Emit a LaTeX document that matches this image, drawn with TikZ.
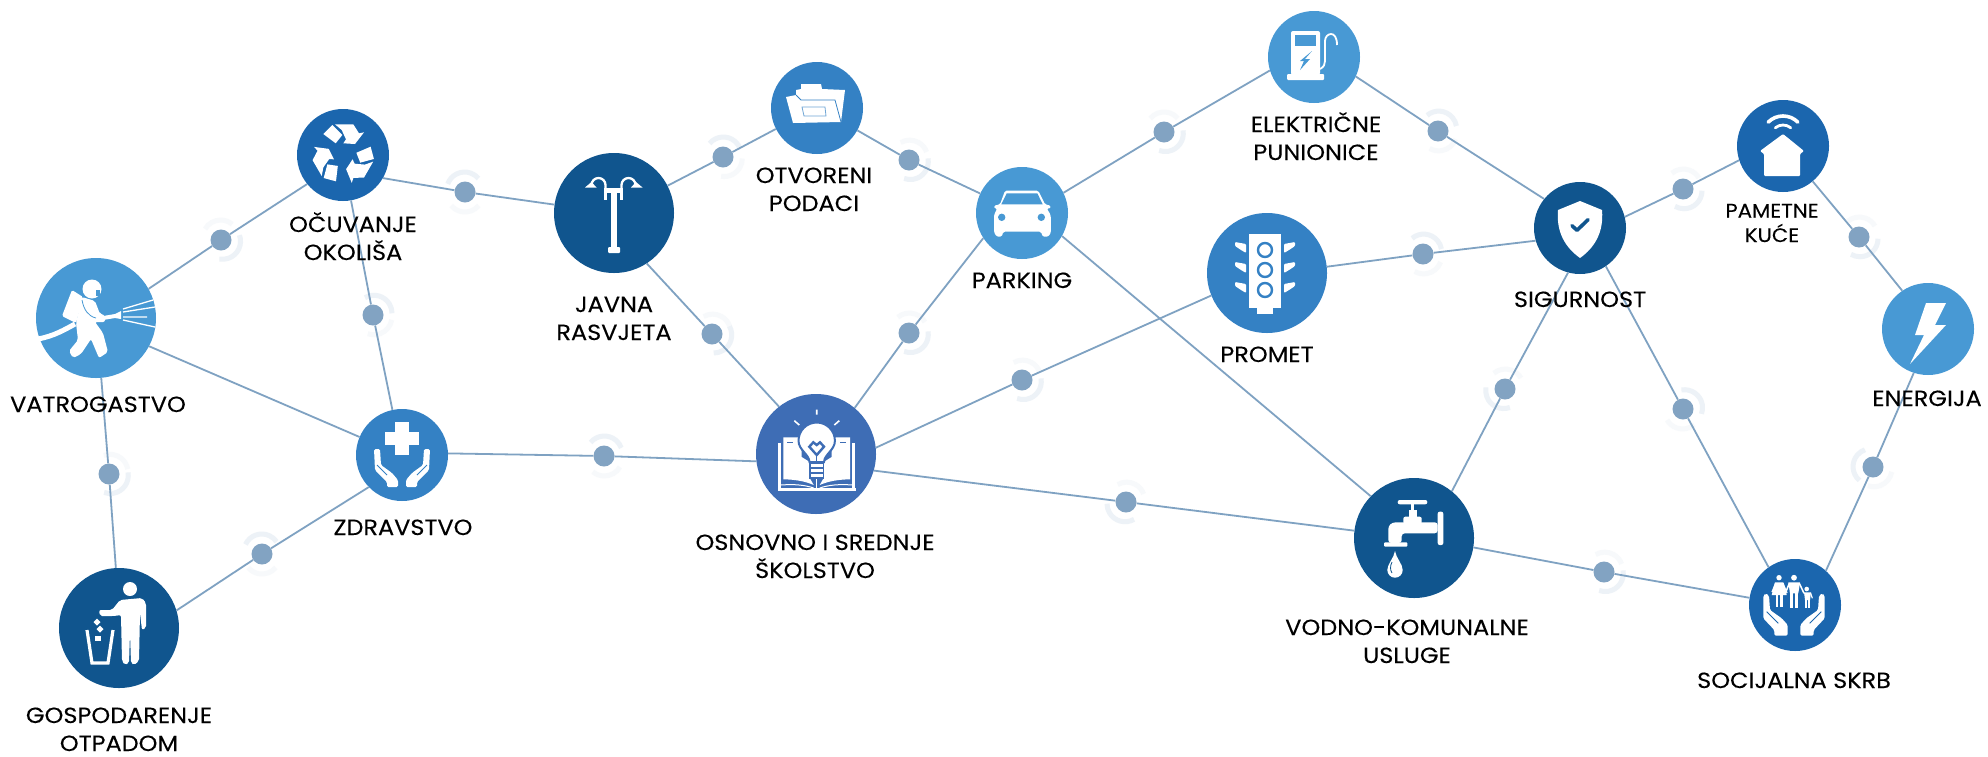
\documentclass[tikz,border=0pt]{standalone}
\usepackage{fontspec}
\setmainfont{Poppins}[FakeStretch=1.09,FakeBold=0.12]
\definecolor{cL}{HTML}{4899D4}
\definecolor{cM}{HTML}{3481C4}
\definecolor{cD}{HTML}{1B66AE}
\definecolor{cX}{HTML}{10558E}
\definecolor{cS}{HTML}{3E6DB5}
\definecolor{cLine}{HTML}{7FA2C2}
\definecolor{cDot}{HTML}{82A3C2}
\definecolor{cHalo}{HTML}{EDF2F7}
\definecolor{cHalo2}{HTML}{F7F9FB}
\tikzset{
  big/.style={circle,inner sep=0pt,minimum size=120pt,draw=none},
  small/.style={circle,inner sep=0pt,minimum size=92pt,draw=none},
  relaydot/.style={circle,inner sep=0pt,minimum size=21pt,fill=cDot,draw=none},
  link/.style={draw=cLine,line width=1.8pt},
  halo/.style={draw=cHalo,line width=5pt},
  halob/.style={draw=cHalo2,line width=5pt},
  lbl/.style={anchor=base,align=center,inner sep=0pt,text=black,font=\fontsize{22}{28}\selectfont},
  lbls/.style={anchor=base,align=center,inner sep=0pt,text=black,font=\fontsize{19.5}{24.5}\selectfont}
}
\newcommand\relay[5]{%
  \draw[halo] ({#2+2*cos(#4)+18*cos(#4-60)},{#3+2*sin(#4)+18*sin(#4-60)}) arc[start angle=#4-60,end angle=#4+60,radius=18pt];
  \draw[halob] ({#2+2*cos(#5)+18*cos(#5-50)},{#3+2*sin(#5)+18*sin(#5-50)}) arc[start angle=#5-50,end angle=#5+50,radius=18pt];
  \node[relaydot] (#1) at (#2,#3) {};}
\begin{document}
\begin{tikzpicture}[x=1pt,y=1pt,yscale=-1]
\useasboundingbox (0,0) rectangle (1988,756);
\fill[white] (0,0) rectangle (1988,756);
% relay dots
\relay{a}{221}{240}{40}{-100}
\relay{b}{465}{192}{-100}{90}
\relay{c}{373}{315}{-60}{60}
\relay{d}{109}{474}{50}{-60}
\relay{e}{262}{554}{-95}{90}
\relay{f}{604}{456}{-80}{80}
\relay{g}{723}{157}{-80}{50}
\relay{h}{909}{160}{50}{-70}
\relay{i}{712}{334}{30}{-70}
\relay{j}{909}{333}{50}{-80}
\relay{k}{1022}{380}{50}{-70}
\relay{l}{1126}{502}{120}{-70}
\relay{m}{1164}{132}{50}{-90}
\relay{n}{1438}{131}{-70}{70}
\relay{o}{1423}{254}{-70}{70}
\relay{p}{1683}{189}{60}{-80}
\relay{q}{1859}{237}{60}{-80}
\relay{r}{1683}{409}{-40}{100}
\relay{s}{1505}{389}{130}{-80}
\relay{t}{1604}{572}{50}{-70}
\relay{u}{1873}{467}{-170}{60}
% hubs
\node[big,fill=cL] (V) at (96,318) {};
\node[small,fill=cD] (O) at (343,155) {};
\node[small,fill=cM] (Z) at (402,455) {};
\node[big,fill=cX] (G) at (119,628) {};
\node[big,fill=cX] (J) at (614,213) {};
\node[small,fill=cM] (T) at (817,108) {};
\node[small,fill=cL] (P) at (1022,213) {};
\node[big,fill=cS] (S) at (816,454) {};
\node[small,fill=cL] (E) at (1314,57) {};
\node[big,fill=cM] (R) at (1267,273) {};
\node[small,fill=cX] (I) at (1580,228) {};
\node[small,fill=cD] (K) at (1783,146) {};
\node[small,fill=cL] (N) at (1928,329) {};
\node[big,fill=cX] (U) at (1414,538) {};
\node[small,fill=cD] (C) at (1795,605) {};
% links
\draw[link] (V.29.5) -- (a) -- (O.219);
\draw[link] (O.-30) -- (b) -- (J.172);
\draw[link] (O.-80) -- (c) -- (Z.102);
\draw[link] (V.-28) -- (Z.157);
\draw[link] (V.-85) -- (d) -- (G.93);
\draw[link] (G.17) -- (e) -- (Z.224);
\draw[link] (Z.2) -- (f) -- (S.187);
\draw[link] (J.27) -- (g) -- (T.207);
\draw[link] (T.-29) -- (h) -- (P.155);
\draw[link] (J.-57) -- (i) -- (S.128);
\draw[link] (P.213) -- (j) -- (S.50);
\draw[link] (S.6.5) -- (k) -- (R.202);
\draw[link] (S.-16) -- (l) -- (U.173);
\draw[link] (P.26) -- (m) -- (E.197);
\draw[link] (E.-25) -- (n) -- (I.141);
\draw[link] (R.6) -- (o) -- (I.196);
\draw[link] (I.14) -- (p) -- (K.198);
\draw[link] (K.-50) -- (q) -- (N.124);
\draw[link] (I.-56) -- (r) -- (C.125);
\draw[link] (I.255) -- (s) -- (U.51);
\draw[link] (P.-30) -- (U.136);
\draw[link] (U.-9) -- (t) -- (C.171);
\draw[link] (N.252) -- (u) -- (C.48);
% firefighter
\begin{scope}[shift={(96,318)}]
\fill[white,rounded corners=1.5pt] (-24,-28) -- (-13,-21) -- (-20,5) -- (-34,-2) -- cycle;
\fill[white] (-4,-29) circle (9.5);
\fill[cL] (0,-28) rectangle (4,-22);
\fill[white,rounded corners=2pt] (-14,-21) -- (-1,-17) -- (4,-4) -- (9,-3) -- (9,4) -- (-1,4) -- (7,15) -- (12,34) -- (3,40) -- (-5,21) -- (-15,36) -- (-23,40) -- (-27,33) -- (-18,22) -- (-20,5) -- cycle;
\draw[cL,line width=.8pt] (-14,-18) .. controls (-12,-8) and (-8,-2) .. (0,0);
\fill[white] (7,-2) -- (19,-4) -- (25,-7) -- (25,1) -- (19,0) -- (7,2) -- cycle;
\draw[white,line width=1.3pt] (27,-9) -- (57,-18) (27,-6) -- (59,-11) (27,-1) -- (51,-1) (27,2) -- (59,9);
\draw[white,line width=5pt] (-58,21) .. controls (-42,18) and (-32,12) .. (-21,6);
\end{scope}
% recycle
\begin{scope}[shift={(343,155)}]
\foreach \a in {0,120,240}{
\begin{scope}[rotate around={\a:(0.3,-1)}]
\fill[white] (-19.7,-21) -- (-10.7,-30) -- (-0.7,-20) -- (-7.3,-11.7) -- cycle;
\fill[white] (-8,-30.7) -- (10.3,-30.7) -- (16,-21.7) -- (21,-22.7) -- (12,-11) -- (0.3,-11.7) -- (3,-15.7) -- (-1.3,-25) -- cycle;
\end{scope}}
\end{scope}
% health
\begin{scope}[shift={(402,455)}]
\fill[white] (-7,-33) rectangle (7,0);
\fill[white] (-17,-23) rectangle (17,-10);
\foreach \s in {1,-1}{
\begin{scope}[xscale=\s]
\fill[white,rounded corners=1.5pt] (-28,-6) -- (-22,-6) -- (-21,10) -- (-10,18) -- (-4,25) -- (-4,32) -- (-15,32) -- (-15,27) -- (-27,15) -- cycle;
\draw[cM,line width=.9pt] (-25,10) -- (-15,20);
\end{scope}}
\end{scope}
% waste
\begin{scope}[shift={(119,628)}]
\fill[white] (11,-39) circle (7);
\fill[white,rounded corners=2pt] (-20,-18) -- (-7,-18) -- (1,-28) -- (23,-30) -- (27,-25) -- (27,0) -- (23,2) -- (21,-15) -- (20,33) -- (15,37) -- (12,35) -- (11,5) -- (10,35) -- (6,37) -- (3,33) -- (2,-13) -- (-5,-12) -- (-19,-12) -- cycle;
\draw[white,line width=3.2pt] (-32,2) -- (-27,35) -- (-11,35) -- (-6,2);
\fill[white] (-22,-9.5) -- (-18.5,-6) -- (-22,-2.5) -- (-25.5,-6) -- cycle;
\fill[white] (-19,-2.5) -- (-15.5,1) -- (-19,4.5) -- (-22.5,1) -- cycle;
\fill[white] (-24,7.5) rectangle (-18,12.5);
\end{scope}
% lamp
\begin{scope}[shift={(614,213)}]
\fill[white] (-3.5,-21) rectangle (3,36);
\fill[white,rounded corners=1pt] (-6,34) rectangle (6,40);
\fill[white] (-10,-25) rectangle (9,-20);
\fill[white] (-10,-25) rectangle (-7,-13);
\fill[white] (6,-25) rectangle (9,-13);
\draw[white,line width=2.3pt] (-8.5,-23) -- (-8.5,-28) arc[start angle=0,end angle=-180,radius=7pt];
\draw[white,line width=2.3pt] (7.5,-23) -- (7.5,-28) arc[start angle=180,end angle=360,radius=7pt];
\fill[white] (-29,-25.5) -- (-17.5,-25.5) -- (-22.5,-31) -- cycle;
\fill[white] (28.5,-25.5) -- (17,-25.5) -- (22,-31) -- cycle;
\end{scope}
% folder
\begin{scope}[shift={(817,108)}]
\fill[white] (-16,-24) -- (4,-24) -- (5,-19) -- (28,-18) -- (24,14) -- (-24,15) -- (-31,-11) -- (-21,-13) -- (-21,-18) -- (-16,-19) -- cycle;
\draw[cM,line width=.8pt] (-21,-13) -- (-16,-8) -- (18,-8) -- (24,14);
\draw[cM!70,line width=.8pt] (-15,-1) -- (8,-1) -- (9,8) -- (-13,8) -- cycle;
\end{scope}
% car
\begin{scope}[shift={(1022,213)}]
\fill[white,rounded corners=1.5pt] (-17,-22.3) -- (16.3,-22.3) -- (23,-8.7) -- (28.7,-7.3) -- (28.7,-4.7) -- (24.7,-4.7) -- (28.7,2) -- (29,19.3) -- (26.3,23.7) -- (20.7,23.7) -- (19,18.7) -- (-18.7,18.7) -- (-20.3,23.7) -- (-25.3,23.7) -- (-28,19.3) -- (-28,2) -- (-24.7,-4.7) -- (-28,-4.7) -- (-28,-7.3) -- (-22,-8.7) -- cycle;
\fill[cL] (-15.3,-19.7) -- (15.3,-19.7) -- (20.7,-8.7) -- (-20.7,-8.7) -- cycle;
\fill[cL] (-20.3,4.3) circle (3.7);
\fill[cL] (19.3,4.3) circle (3.7);
\end{scope}
% school
\begin{scope}[shift={(816,454)}]
\foreach \s in {1,-1}{
\begin{scope}[shift={(0.7,0)},xscale=\s]
\fill[white] (-33.4,-16.7) -- (-15,-16.7) -- (-15,3) -- (-7,8) -- (-7,24) -- (-3,31) .. controls (-12,27) and (-22,25.5) .. (-33.4,25.3) -- cycle;
\fill[white] (-38.4,-10.7) rectangle (-35.7,34);
\draw[white,line width=1pt] (-35.7,31) .. controls (-22,30) and (-12,31) .. (-3,34);
\fill[cS] (-29.4,-12.3) rectangle (-23.4,-10.7);
\end{scope}}
\fill[white] (-37.7,34) rectangle (40,37.3);
\draw[white,line width=1.5pt] (0.7,24) -- (0.7,34);
\fill[white,draw=cS,line width=2pt] (-6.5,8) .. controls (-7,0) and (-17.5,-4) .. (-17.5,-13.3) arc[start angle=180,end angle=360,radius=18.2pt] .. controls (19,-4) and (8.5,0) .. (8,8) -- cycle;
\fill[white,draw=cS,line width=1.4pt] (-6,9) rectangle (7.5,24);
\draw[cS,line width=1.4pt] (-6,14) -- (7.5,14) (-6,19) -- (7.5,19);
\draw[cS,line width=2.4pt,line join=miter] (-6.7,-7.3) -- (0.7,1) -- (8,-7.3) -- (4,-11.7) -- (0.7,-9) -- (-2.7,-11.7) -- cycle;
\draw[cS,line width=1.4pt] (0.7,1) -- (0.7,9);
\draw[white,line width=1.6pt] (0.7,-44.3) -- (0.7,-39.3) (-21.7,-33.3) -- (-16.7,-29) (23.3,-33.3) -- (18.3,-29);
\end{scope}
% charging
\begin{scope}[shift={(1314,57)}]
\fill[white,rounded corners=2pt] (-23,-26) rectangle (6,18);
\fill[white,rounded corners=1pt] (-27,17) rectangle (10,23);
\fill[cL] (-19,-22) rectangle (2,-11);
\fill[cL] (-2,-6) -- (-9,2) -- (-4,2) -- (-14,13) -- (-10,4) -- (-14,4) -- cycle;
\draw[white,line width=1.8pt] (6,12) .. controls (10,10) and (11,7) .. (11,4) -- (11,-16) .. controls (11,-20) and (14,-23) .. (17,-23) .. controls (20,-23) and (23,-20) .. (23,-12);
\end{scope}
% traffic
\begin{scope}[shift={(1267,273)}]
\fill[white] (-18,-39) rectangle (14,35);
\fill[white] (-10,35) rectangle (6,41);
\foreach \d in {0,20,40}{
\draw[cM,line width=2.4pt] (-2,-23+\d) circle (7);
\fill[white,rounded corners=1pt] (-32,-31+\d) -- (-21,-29+\d) -- (-21,-20+\d) -- (-26,-23+\d) -- (-32,-27+\d) -- cycle;
\fill[white,rounded corners=1pt] (28,-31+\d) -- (17,-29+\d) -- (17,-20+\d) -- (22,-23+\d) -- (28,-27+\d) -- cycle;
}
\end{scope}
% shield
\begin{scope}[shift={(1580,228)}]
\fill[white] (0,-27) -- (22,-18) .. controls (24,5) and (14,20) .. (0,30) .. controls (-14,20) and (-24,5) .. (-22,-18) -- cycle;
\draw[cX,line width=3.6pt,line cap=round,line join=round] (-8,-2.3) -- (-3,2.3) -- (8,-8.3);
\end{scope}
% smart home
\begin{scope}[shift={(1783,146)}]
\fill[white,rounded corners=1pt] (0,-12) -- (21,5) -- (17,8) -- (17,30) -- (-19,30) -- (-19,8) -- (-23,5) -- cycle;
\draw[white,line width=3.6pt,line cap=round] ({21*cos(-135)},{-9+21*sin(-135)}) arc[start angle=-135,end angle=-45,radius=21pt];
\draw[white,line width=2.8pt,line cap=round] ({12*cos(-130)},{-9+12*sin(-130)}) arc[start angle=-130,end angle=-50,radius=12pt];
\end{scope}
% energy
\begin{scope}[shift={(1928,329)}]
\fill[white] (-2,-26) -- (18,-26) -- (7,-4) -- (18,-4) -- (-18,35) -- (-4,6) -- (-13,6) -- cycle;
\end{scope}
% faucet
\begin{scope}[shift={(1414,538)}]
\fill[white,rounded corners=2pt] (-16.3,-38) rectangle (13.3,-33.7);
\fill[white] (-3.3,-34) rectangle (0,-28);
\fill[white] (-4.7,-28) rectangle (2.7,-20);
\fill[white,rounded corners=2pt] (-10.7,-21.3) rectangle (7.7,-14);
\fill[white,rounded corners=3pt] (-21.3,-15.7) -- (23.7,-15.7) -- (23.7,-4.7) -- (-12.3,-4.7) -- (-12.3,5) -- (-25.7,5) -- (-25.7,-12) -- cycle;
\fill[white,rounded corners=1pt] (-30,4.3) rectangle (-6.7,8.7);
\fill[white,rounded corners=2pt] (23.7,-26.3) rectangle (29.3,7);
\fill[white] (-19,13) .. controls (-20,20) and (-26.7,26) .. (-26.7,32) arc[start angle=180,end angle=0,radius=7.7pt] .. controls (-11.3,26) and (-18,20) .. (-19,13) -- cycle;
\draw[cX,line width=.8pt] (-22,24) .. controls (-24,28) and (-24,32) .. (-22,35);
\end{scope}
% social care
\begin{scope}[shift={(1795,605)}]
\foreach \s in {1,-1}{
\begin{scope}[shift={(-1,0)},xscale=\s]
\fill[white,rounded corners=1.5pt] (-30.7,-9.3) -- (-28.3,-11.7) -- (-25,-9.3) -- (-24,5) -- (-12.3,13.3) -- (-6.3,20) -- (-6.3,30.7) -- (-19.7,30.7) -- (-19.7,25) -- (-30.7,13.3) -- cycle;
\draw[cD,line width=.9pt] (-27.3,6.7) -- (-15.7,18.3);
\end{scope}}
\fill[white] (-16,-27.3) circle (2.7);
\fill[white] (-20,-22.7) -- (-11.7,-22.7) -- (-8.3,-10) -- (-23.3,-10) -- cycle;
\fill[white] (-19.3,-10) rectangle (-16.7,1.7);
\fill[white] (-15,-10) rectangle (-12.3,1.7);
\draw[white,line width=1.2pt] (-19.5,-21.7) -- (-23,-13) (-12,-21.7) -- (-8,-12);
\fill[white] (-1,-27.3) circle (2.9);
\fill[white] (-6.7,-22.7) -- (5,-22.7) -- (3.3,-11.7) -- (-5,-11.7) -- cycle;
\fill[white] (-5,-11.7) rectangle (-1.7,2.7);
\fill[white] (0,-11.7) rectangle (3.3,2.7);
\draw[white,line width=1.5pt] (-5.7,-21.7) -- (-9.7,-11.7) (4.3,-21.7) -- (9,-11.7);
\fill[white] (11.7,-16) circle (2.3);
\fill[white] (9,-12.7) -- (16,-12.7) -- (15,-5) -- (10,-5) -- cycle;
\fill[white] (10,-5) rectangle (12,2.7);
\fill[white] (13,-5) rectangle (15,2.7);
\draw[white,line width=1.2pt] (15.5,-12.2) -- (17.3,-6.7);
\end{scope}
% labels
\node[lbl] (lV) at (98,412) {VATROGASTVO};
\node[lbl] (lO) at (353,260) {OČUVANJE\\OKOLIŠA};
\node[lbl] (lZ) at (403,535) {ZDRAVSTVO};
\node[lbl] (lG) at (119,751) {GOSPODARENJE\\OTPADOM};
\node[lbl] (lJ) at (614,340) {JAVNA\\RASVJETA};
\node[lbl] (lT) at (814,211) {OTVORENI\\PODACI};
\node[lbl] (lP) at (1022,288) {PARKING};
\node[lbl] (lS) at (815,578) {OSNOVNO I SREDNJE\\ŠKOLSTVO};
\node[lbl] (lE) at (1316,160) {ELEKTRIČNE\\PUNIONICE};
\node[lbl] (lR) at (1267,362) {PROMET};
\node[lbl] (lI) at (1580,307) {SIGURNOST};
\node[lbls] (lK) at (1772,242) {PAMETNE\\KUĆE};
\node[lbl] (lN) at (1927,406) {ENERGIJA};
\node[lbl] (lU) at (1407,663) {VODNO-KOMUNALNE\\USLUGE};
\node[lbl] (lC) at (1794,688) {SOCIJALNA SKRB};
\end{tikzpicture}
\end{document}
